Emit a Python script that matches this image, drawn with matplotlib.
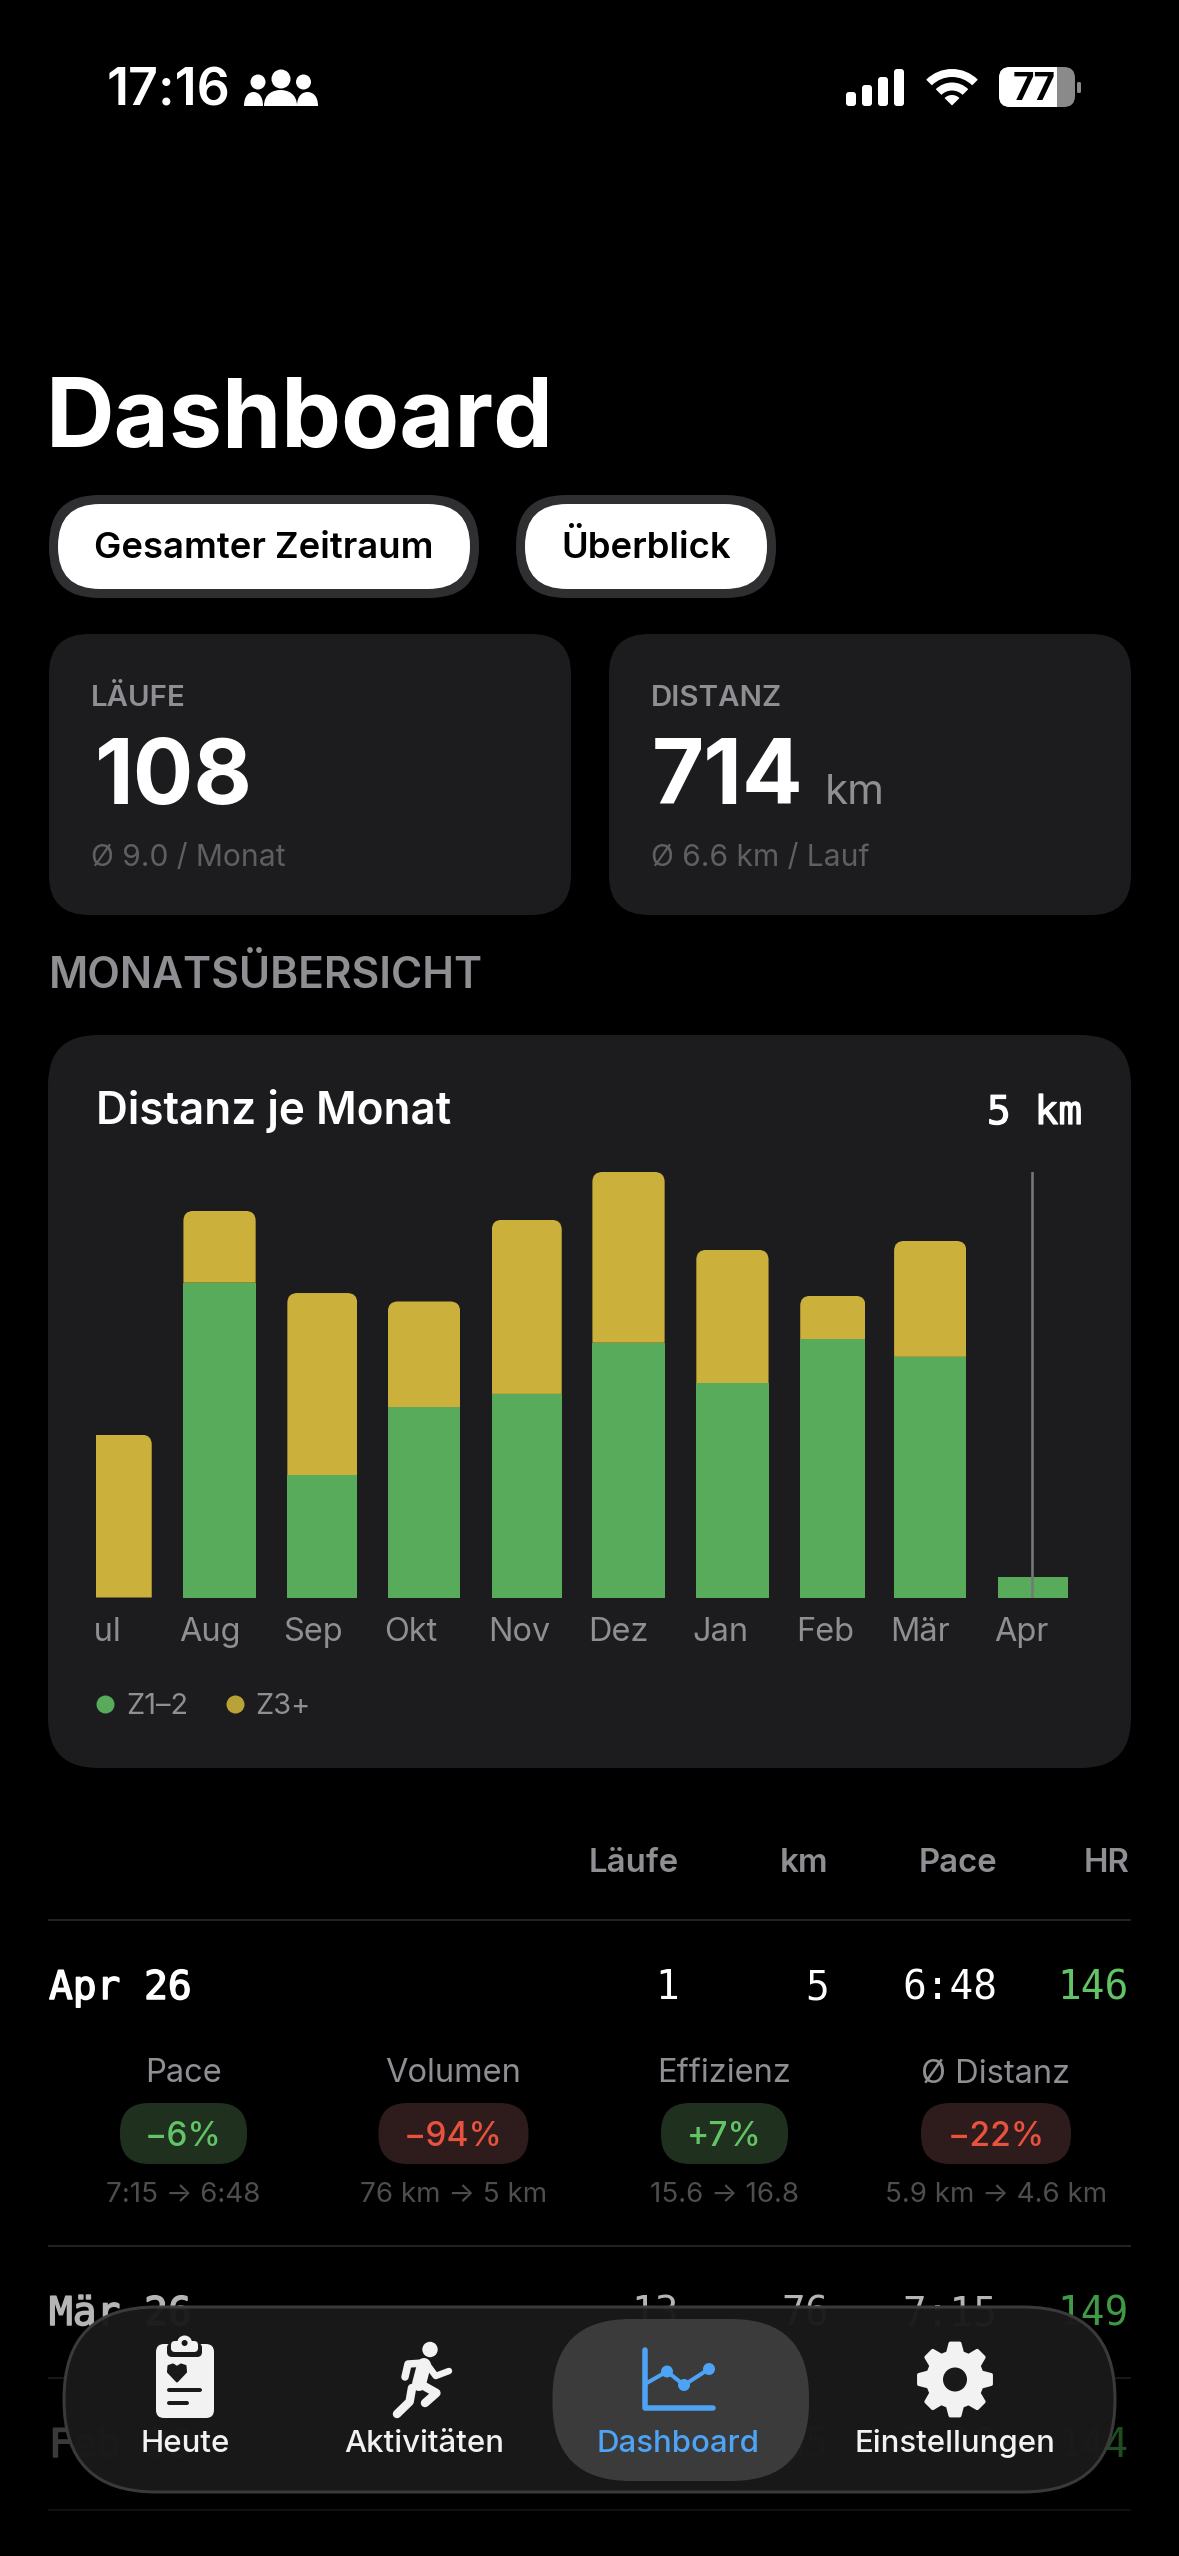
import numpy as np
import matplotlib
matplotlib.use("Agg")
import matplotlib.pyplot as plt
from matplotlib.patches import FancyBboxPatch, Circle, Wedge, Rectangle, PathPatch, Polygon
from matplotlib.path import Path
from matplotlib.lines import Line2D
from matplotlib.transforms import Bbox
import matplotlib.patheffects as pe

# ---------- data ----------
months = ["Jul", "Aug", "Sep", "Okt", "Nov", "Dez", "Jan", "Feb", "Mär", "Apr"]
month_days = [31, 31, 30, 31, 30, 31, 31, 28, 31, 30]
z12_km = [0.0, 67.1, 26.1, 40.6, 43.4, 54.3, 45.7, 55.1, 51.3, 4.4]
z3_km = [34.7, 15.3, 38.8, 22.5, 37.1, 36.4, 28.4, 9.2, 24.7, 0.0]
selected_day = 285

table_cols = ["Läufe", "km", "Pace", "HR"]
rows_month = ["Apr 26", "Mär 26", "Feb 26"]
rows_runs = ["1", "13", "9"]
rows_km = ["5", "76", "65"]
rows_pace = ["6:48", "7:15", "7:28"]
rows_hr = ["146", "149", "144"]

delta_names = ["Pace", "Volumen", "Effizienz", "Ø Distanz"]
delta_vals = ["−6%", "−94%", "+7%", "−22%"]
delta_good = [True, False, True, False]
delta_subs = ["7:15 → 6:48", "76 km → 5 km", "15.6 → 16.8", "5.9 km → 4.6 km"]

tabs = ["Heute", "Aktivitäten", "Dashboard", "Einstellungen"]

# ---------- colours ----------
BG = "#000000"; CARD = "#1c1c1e"; GREY = "#8e8e93"; DIM = "#5f5f63"
GREEN = "#57ab5a"; YELLOW = "#cbb13c"; UP = "#62c466"; DOWN = "#e8523f"
BLUE = "#4da3f5"; WHITE = "#ffffff"; ICON = "#f2f2f2"; TAB = "#191919"
SANS = ["Inter", "DejaVu Sans"]; MONO = ["DejaVu Sans Mono"]
W, H = 1179, 2556

fig = plt.figure(figsize=(W / 100, H / 100), dpi=100, facecolor=BG)
ui = fig.add_axes([0, 0, 1, 1], facecolor=BG)
ui.set_xlim(0, W); ui.set_ylim(H, 0); ui.axis("off")


def T(x, y, s, px, color=WHITE, weight="normal", ha="left", family=None, z=5, **kw):
    return ui.text(x, y, s, fontsize=px * 0.72, color=color, fontweight=weight, ha=ha,
                   va="baseline", family=family or SANS, zorder=z, **kw)


def semi(t, color, w=0.9):
    t.set_path_effects([pe.withStroke(linewidth=w, foreground=color)])
    return t


def RR(x0, y0, x1, y1, r, fc, ec="none", lw=0, z=2, **kw):
    p = FancyBboxPatch((x0 + r, y0 + r), x1 - x0 - 2 * r, y1 - y0 - 2 * r,
                       boxstyle=f"round,pad={r},rounding_size={r}", fc=fc, ec=ec,
                       lw=lw * 0.72, zorder=z, **kw)
    ui.add_patch(p)
    return p


def L(pts, px, color=ICON, z=12, cap="round"):
    xs, ys = zip(*pts)
    ui.plot(xs, ys, color=color, lw=px * 0.72, solid_capstyle=cap, solid_joinstyle="round", zorder=z)


def dome(x0, x1, ytop, ybot, fc=WHITE, z=6):
    xm = (x0 + x1) / 2
    v = [(x0, ybot), (x0, ytop + (ybot - ytop) * .2), (xm - (x1 - x0) * .2, ytop), (xm, ytop),
         (xm + (x1 - x0) * .2, ytop), (x1, ytop + (ybot - ytop) * .2), (x1, ybot), (x0, ybot)]
    c = [Path.MOVETO, Path.CURVE4, Path.CURVE4, Path.CURVE4, Path.CURVE4, Path.CURVE4, Path.CURVE4, Path.CLOSEPOLY]
    ui.add_patch(PathPatch(Path(v, c), fc=fc, ec="none", zorder=z))


# ---------- status bar ----------
T(107, 106, "17:16", 52, weight="semibold")
for cx, cy, r in [(258, 82, 7.5), (281, 79, 9.5), (303.5, 82, 7.5)]:
    ui.add_patch(Circle((cx, cy), r, fc=WHITE, ec="none", zorder=6))
dome(244, 263, 92, 106); dome(297, 318, 92, 106); dome(264, 297, 90, 106)
for x0, top in zip([846, 862, 878, 894], [92, 85, 77, 69]):
    RR(x0, top, x0 + 10, 106, 3, WHITE, z=6)
for r0, r1 in [(28.5, 36.5), (15, 23)]:
    ui.add_patch(Wedge((952, 105.5), r1, 225, 315, width=r1 - r0, fc=WHITE, ec="none", zorder=6))
ui.add_patch(Wedge((952, 105.5), 10.5, 225, 315, fc=WHITE, ec="none", zorder=6))
RR(999, 67, 1075, 107, 11, "#8a8a8a", z=6)
bw = RR(999, 67, 1075, 107, 11, WHITE, z=7)
clipr = Rectangle((999, 60), 58, 55, transform=ui.transData)
bw.set_clip_path(clipr)
RR(1077, 82, 1081, 93, 1.5, "#8a8a8a", z=6)
T(1034, 100, "77", 37, color="#000000", weight="bold", ha="center", z=8)

# ---------- header ----------
T(46, 447, "Dashboard", 95, weight="bold")
for x0, x1, label in [(49, 479, "Gesamter Zeitraum"), (516, 776, "Überblick")]:
    RR(x0, 495, x1, 598, 50, "#2f2f31", z=2)
    RR(x0 + 9, 504, x1 - 9, 589, 42, WHITE, z=3)
    T((x0 + x1) / 2, 558, label, 36.4, color="#000000", weight="semibold", ha="center")

# ---------- stat cards ----------
for x0, x1, head, val, sub, dx in [(49, 571, "LÄUFE", "108", "Ø 9.0 / Monat", 46),
                                   (609, 1131, "DISTANZ", "714", "Ø 6.6 km / Lauf", 43)]:
    RR(x0, 634, x1, 915, 40, CARD)
    T(x0 + 42, 705.5, head, 29.5, color=GREY, weight="semibold")
    T(x0 + dx, 804, val, 90, weight="bold")
    T(x0 + 42, 866, sub, 30, color=DIM)
T(825, 804, "km", 42, color=GREY)
T(49, 988, "MONATSÜBERSICHT", 42.5, color=GREY, weight="semibold")

# ---------- chart card ----------
RR(48, 1035, 1131, 1768, 50, CARD)
T(96, 1124, "Distanz je Monat", 44.1, weight="semibold")
semi(T(1082, 1124, "5 km", 39.5, ha="right", family=MONO), WHITE)

# chart axes, placed in pixel terms on the card
AX_L, AX_R, AX_T, AX_B = 96, 1082, 1172, 1597.5
ax = fig.add_axes([AX_L / W, 1 - AX_B / H, (AX_R - AX_L) / W, (AX_B - AX_T) / H], facecolor="none", zorder=3)
days = np.array(month_days, dtype=float)
starts = np.concatenate([[0], np.cumsum(days)[:-1]])
z12 = np.array(z12_km); z3 = np.array(z3_km)
left_lim = 5.67; right_lim = 299.8
bar_x = starts + 0.75
bar_w = days * 0.695
ax.set_xlim(left_lim, right_lim)
ax.set_ylim(0, (z12 + z3).max())
ax.bar(bar_x, z12, width=bar_w, bottom=0, align="edge", color=GREEN, linewidth=0, zorder=2)
tops = ax.bar(bar_x, z3, width=bar_w, bottom=z12, align="edge", color=YELLOW, linewidth=0, zorder=2)
RX, RY = 3.0, 2.1
for b in tops:
    if b.get_height() <= 0:
        continue
    x0 = max(b.get_x(), left_lim); x1 = b.get_x() + b.get_width()
    y0 = b.get_y(); y1 = y0 + b.get_height()
    v = [(x0, y0), (x0, y1 - RY), (x0, y1), (x0 + RX, y1), (x1 - RX, y1), (x1, y1),
         (x1, y1 - RY), (x1, y0), (x0, y0)]
    c = [Path.MOVETO, Path.LINETO, Path.CURVE3, Path.CURVE3, Path.LINETO, Path.CURVE3, Path.CURVE3, Path.LINETO,
         Path.CLOSEPOLY]
    if b.get_x() < left_lim:   # clipped on the left: no rounded corner there
        v = [(x0, y0), (x0, y1), (x1 - RX, y1), (x1, y1), (x1, y1 - RY), (x1, y0), (x0, y0)]
        c = [Path.MOVETO, Path.LINETO, Path.LINETO, Path.CURVE3, Path.CURVE3, Path.LINETO, Path.CLOSEPOLY]
    b.set_clip_path(Path(v, c), transform=ax.transData)
ax.axvline(selected_day, color="#77777b", lw=2.6 * 0.72, zorder=3)
for s in ax.spines.values():
    s.set_visible(False)
ax.set_yticks([])
ax.set_xticks(starts[1:] - 0.5)
ax.set_xticklabels(months[1:], ha="left", va="baseline", fontsize=32.5 * 0.72, color=GREY, family=SANS)
ax.tick_params(axis="x", length=0, pad=(1641 - AX_B) * 0.72)
first = ax.annotate(months[0], xy=(starts[0] - 0.5, 0), xycoords=("data", "axes fraction"),
                    xytext=(0, -(1641 - AX_B) * 0.72), textcoords="offset points", annotation_clip=False,
                    ha="left", va="baseline", fontsize=32.5 * 0.72, color=GREY, family=SANS)
first.set_clip_on(True)
first.set_clip_box(Bbox([[AX_L, 0], [W, H]]))
handles = [Line2D([], [], ls="none", marker="o", ms=18 * 0.72, mfc=GREEN, mec="none"),
           Line2D([], [], ls="none", marker="o", ms=18 * 0.72, mfc="#b9a338", mec="none")]
leg = ax.legend(handles, ["Z1–2", "Z3+"], loc="center left", bbox_to_anchor=(93.5, 1707), bbox_transform=ui.transData,
                ncol=2, frameon=False, borderpad=0, borderaxespad=0, handletextpad=0.3, columnspacing=1.2,
                handlelength=0.82, prop={"family": SANS, "size": 29 * 0.72}, labelcolor=GREY)

# ---------- table ----------
R_X = [679, 828.5, 997, 1129]
for rx, c in zip(R_X, table_cols):
    T(rx, 1872, c, 33, color=GREY, weight="semibold", ha="right")
for y, col in [(1919.5, "#2a2a2c"), (2245.5, "#2a2a2c"), (2377.5, "#1e1e1f"), (2510, "#141414")]:
    ui.plot([48, 1131], [y, y], color=col, lw=1.6 * 0.72, zorder=1, solid_capstyle="butt")
row_y = [1999, 2325, 2457]
row_col = [WHITE, "#b5b5b5", "#3a3a3a"]
row_hr_col = [UP, "#3f9a45", "#1f4d22"]
for i, y in enumerate(row_y):
    semi(T(49, y, rows_month[i], 39.5, color=row_col[i], family=MONO, z=1), row_col[i], 1.1)
    for rx, s in zip(R_X[:3], [rows_runs[i], rows_km[i], rows_pace[i]]):
        T(rx, y, s, 39.5, color=row_col[i], ha="right", family=MONO, z=1)
    T(R_X[3], y, rows_hr[i], 39.5, color=row_hr_col[i], ha="right", family=MONO, z=1)

cx_col = [183.5, 453.5, 724.5, 996]
half = [63.5, 75, 63.5, 75]
for cx, h, n, v, good, sub in zip(cx_col, half, delta_names, delta_vals, delta_good, delta_subs):
    T(cx, 2082.5, n, 32.6, color=GREY, ha="center")
    RR(cx - h, 2103, cx + h, 2164, 29, "#1f301f" if good else "#2d1c1b")
    T(cx, 2146, v, 33.5, color=UP if good else DOWN, weight="medium", ha="center")
    T(cx, 2202.5, sub, 27.8, color="#4e4e51", ha="center")

# ---------- tab bar ----------
RR(64, 2307, 1115, 2492, 92, TAB, ec="#3c3c3c", lw=3, z=10, alpha=0.97)
RR(552.5, 2319, 809, 2481, 78, "#3b3b3b", z=11)
for cx, label, col in zip([185, 424, 678, 955], tabs, [ICON, ICON, BLUE, ICON]):
    T(cx, 2452, label, 31.2, color=col, weight="medium", ha="center", z=13)

# clipboard icon
RR(156, 2344, 214, 2418, 8, ICON, z=12)
ui.add_patch(Circle((184.6, 2343), 7.5, fc=ICON, ec="none", zorder=13))
RR(167, 2343, 202, 2357, 5, TAB, z=13)
RR(171, 2341, 198, 2352, 4, ICON, z=14)
ui.add_patch(Circle((184.6, 2343), 3, fc=TAB, ec="none", zorder=15))
heart = np.array([(177, 2381.5), (168, 2372), (168.5, 2366), (173, 2364.5), (177, 2367),
                  (181, 2364.5), (185.5, 2366), (186, 2372)])
ui.add_patch(Polygon(heart, closed=True, fc=TAB, ec=TAB, lw=1.5, joinstyle="round", zorder=13))
L([(169, 2390), (200, 2390)], 4, TAB, z=13)
L([(169, 2403), (187, 2403)], 4, TAB, z=13)

# runner icon
ui.add_patch(Circle((430, 2349.5), 7.7, fc=ICON, ec="none", zorder=12))
L([(424, 2363), (408, 2364), (405, 2377)], 7.5)
L([(424, 2365), (419, 2384)], 14)
L([(427.5, 2365), (435.7, 2376), (449, 2371)], 6.5)
L([(412, 2388), (409.6, 2401.7), (397, 2414)], 8.5)
L([(418.6, 2383), (436.4, 2393), (425, 2403)], 8.5)

# chart icon
L([(645, 2349.5), (645, 2408), (713, 2408)], 5.5, BLUE)
L([(645, 2384), (667, 2371.5), (684, 2385), (709, 2369)], 4, BLUE)
for cx, cy in [(667, 2371.5), (684, 2385), (709, 2369)]:
    ui.add_patch(Circle((cx, cy), 6, fc=BLUE, ec="none", zorder=12))

# gear icon
rad = np.tile([36.5, 36.5, 27.5, 27.5], 8)
angs = (np.arange(8)[:, None] * np.pi / 4 + np.array([-0.13, 0.13, 0.27, 0.52])).ravel() - np.pi / 2
gx = 955 + rad * np.cos(angs); gy = 2379.5 + rad * np.sin(angs)
ui.add_patch(Polygon(np.c_[gx, gy], closed=True, fc=ICON, ec=ICON, lw=2.5, joinstyle="round", zorder=12))
ui.add_patch(Circle((955, 2379.5), 12, fc=TAB, ec="none", zorder=13))

fig.savefig("out.png", dpi=100, facecolor=BG)
